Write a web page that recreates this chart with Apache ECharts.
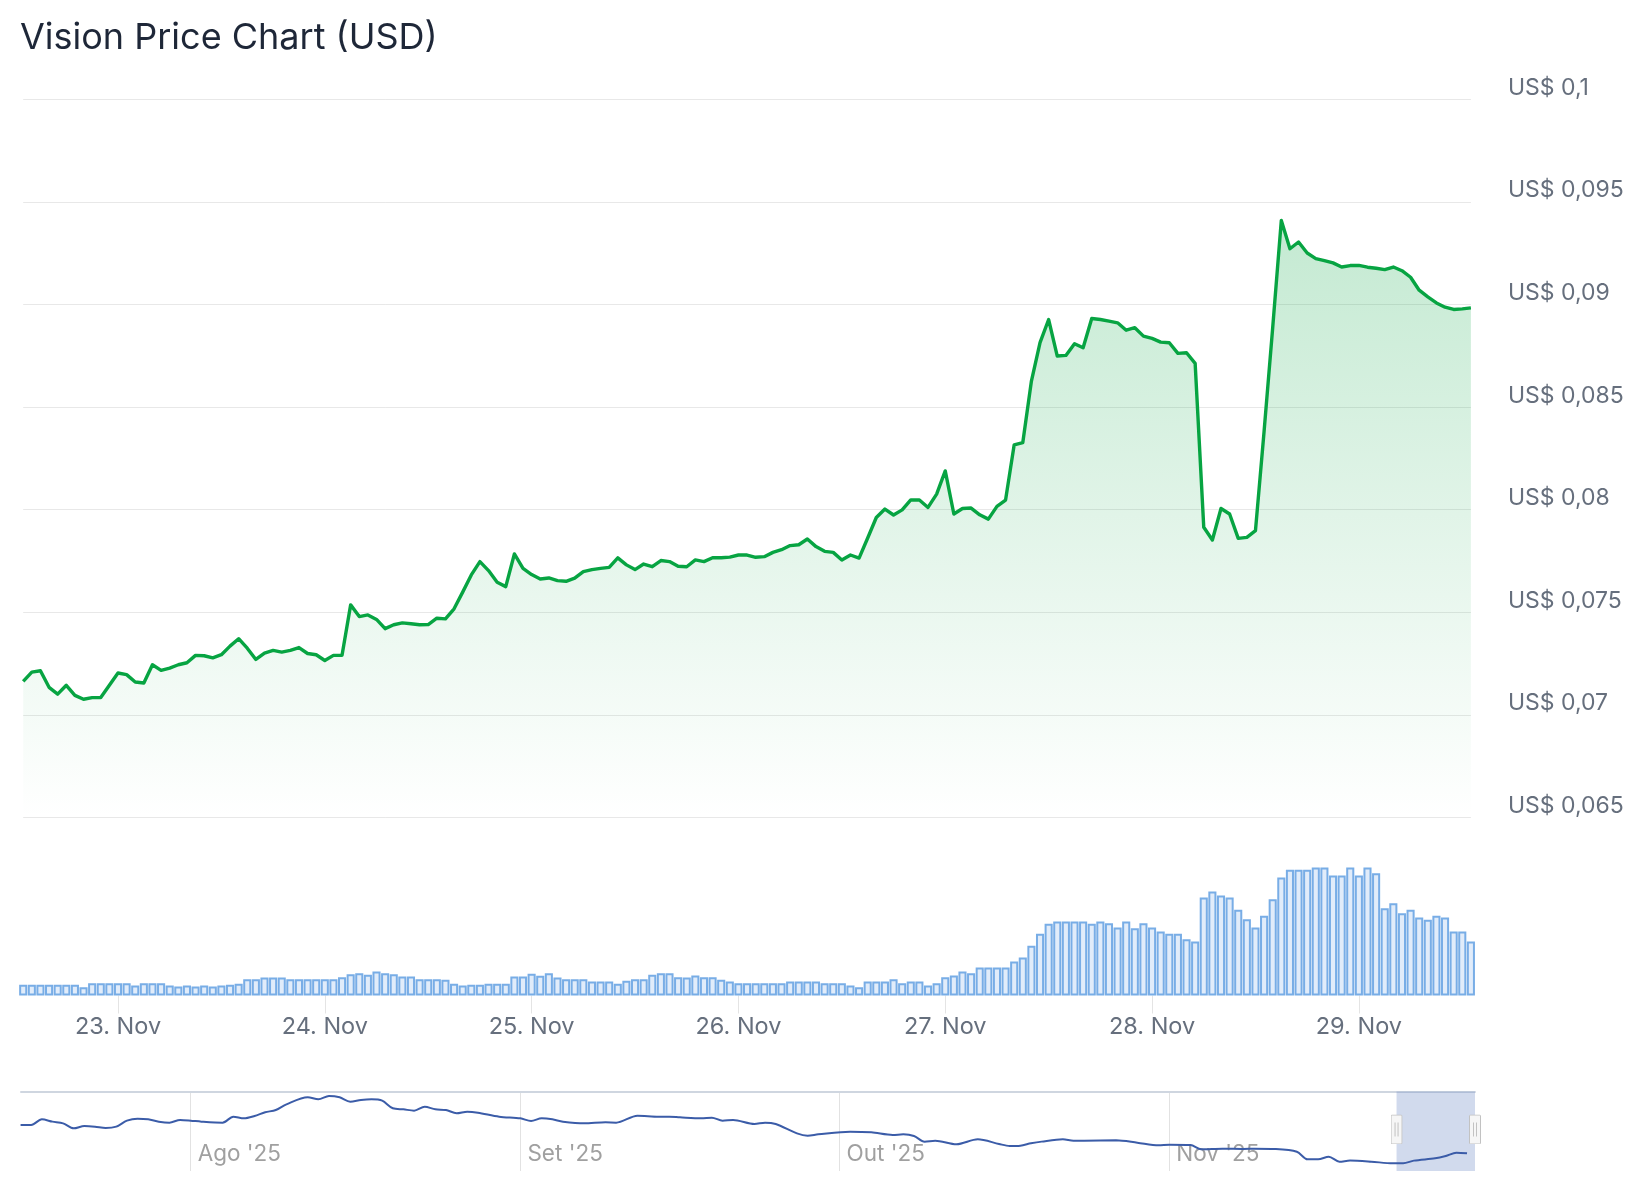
<!DOCTYPE html>
<html><head><meta charset="utf-8">
<script src="https://cdn.jsdelivr.net/npm/echarts@6/dist/echarts.min.js"></script>
<style>html,body{margin:0;padding:0;background:#fff}#chart{width:1644px;height:1200px}</style>
</head><body><div id="chart"></div>
<script>
// ---- data ----
const titleText = 'Vision Price Chart (USD)';
const startUTC = Date.UTC(2025, 10, 22, 13); // first hourly point: 22 Nov 13:00
const monthShort = 'Nov';

const priceValues = [
0.07163,0.07208,0.07215,0.07134,0.07101,0.07144,0.07095,0.07076,0.07084,0.07084,
0.07144,0.07204,0.07196,0.07160,0.07155,0.07244,0.07217,0.07228,0.07244,0.07254,
0.07290,0.07288,0.07278,0.07293,0.07335,0.07371,0.07325,0.07270,0.07301,0.07314,
0.07306,0.07314,0.07328,0.07299,0.07293,0.07265,0.07290,0.07290,0.07536,0.07479,
0.07487,0.07465,0.07420,0.07439,0.07448,0.07444,0.07439,0.07440,0.07471,0.07468,
0.07517,0.07598,0.07682,0.07747,0.07703,0.07646,0.07625,0.07784,0.07714,0.07684,
0.07662,0.07667,0.07654,0.07651,0.07666,0.07698,0.07708,0.07714,0.07719,0.07765,
0.07731,0.07708,0.07735,0.07722,0.07752,0.07747,0.07724,0.07722,0.07755,0.07747,
0.07766,0.07766,0.07769,0.07779,0.07779,0.07768,0.07771,0.07792,0.07805,0.07825,
0.07829,0.07857,0.07820,0.07797,0.07792,0.07755,0.07779,0.07764,0.07862,0.07962,
0.08003,0.07974,0.07999,0.08048,0.08047,0.08011,0.08076,0.08189,0.07979,0.08006,
0.08008,0.07975,0.07954,0.08016,0.08047,0.08316,0.08327,0.08627,0.08814,0.08927,
0.08749,0.08752,0.08809,0.08789,0.08932,0.08927,0.08919,0.08911,0.08875,0.08887,
0.08846,0.08835,0.08817,0.08814,0.08762,0.08765,0.08713,0.07914,0.07852,0.08006,
0.07979,0.07860,0.07865,0.07898,0.08382,0.08887,0.09410,0.09272,0.09305,0.09251,
0.09224,0.09214,0.09203,0.09183,0.09190,0.09191,0.09182,0.09177,0.09170,0.09183,
0.09165,0.09133,0.09070,0.09037,0.09008,0.08987,0.08976,0.08979,0.08984
];

const volumeValues = [
32,32,32,32,32,32,32,25,37,37,
37,37,37,30,37,37,37,30,27,30,
27,30,27,30,32,35,49,49,54,54,
54,49,49,49,49,49,49,55,64,67,
62,72,67,64,57,57,49,49,49,47,
35,30,32,32,35,35,35,57,57,65,
59,67,54,49,49,49,42,42,42,35,
44,49,49,62,67,67,55,54,60,55,
55,47,42,37,37,37,37,37,37,42,
42,42,42,37,37,37,30,25,42,42,
42,49,37,42,42,30,37,55,60,72,
67,84,84,84,84,102,114,149,185,215,
222,222,222,222,215,222,217,204,222,202,
217,204,192,185,185,169,162,294,312,300,
294,257,229,204,239,289,354,377,377,377,
384,384,360,360,384,360,384,367,262,277,
247,257,234,227,239,234,192,192,162
];

const priceTicks = { min: 0.065, max: 0.1, step: 0.005 };

const navDates = [
'2025-07-16','2025-07-17','2025-07-18','2025-07-19','2025-07-20','2025-07-21','2025-07-22','2025-07-23','2025-07-24','2025-07-25',
'2025-07-26','2025-07-27','2025-07-28','2025-07-29','2025-07-30','2025-07-31','2025-08-01','2025-08-02','2025-08-04','2025-08-05',
'2025-08-06','2025-08-07','2025-08-08','2025-08-09','2025-08-10','2025-08-12','2025-08-13','2025-08-14','2025-08-15','2025-08-16',
'2025-08-17','2025-08-18','2025-08-19','2025-08-20','2025-08-21','2025-08-22','2025-08-23','2025-08-24','2025-08-25','2025-08-26',
'2025-08-27','2025-08-28','2025-08-30','2025-09-01','2025-09-02','2025-09-03','2025-09-04','2025-09-05','2025-09-07','2025-09-09',
'2025-09-10','2025-09-12','2025-09-14','2025-09-15','2025-09-16','2025-09-18','2025-09-19','2025-09-20','2025-09-21','2025-09-23',
'2025-09-24','2025-09-25','2025-09-27','2025-09-28','2025-09-29','2025-10-02','2025-10-04','2025-10-06','2025-10-07','2025-10-08',
'2025-10-09','2025-10-10','2025-10-12','2025-10-14','2025-10-16','2025-10-17','2025-10-18','2025-10-19','2025-10-20','2025-10-22',
'2025-10-23','2025-10-24','2025-10-27','2025-10-29','2025-10-31','2025-11-01','2025-11-03','2025-11-04','2025-11-06','2025-11-08',
'2025-11-09','2025-11-11','2025-11-13','2025-11-14','2025-11-15','2025-11-16','2025-11-17','2025-11-18','2025-11-20','2025-11-22',
'2025-11-23','2025-11-24','2025-11-26','2025-11-27','2025-11-28','2025-11-29'
];
const navValues = [
0.1414,0.1414,0.1517,0.1475,0.1444,0.1353,0.1396,0.1384,0.1359,0.1384,
0.1493,0.1529,0.1517,0.1475,0.1457,0.1505,0.1493,0.1475,0.1457,0.1566,
0.1535,0.1578,0.1645,0.1687,0.1790,0.1918,0.1881,0.1942,0.1918,0.1839,
0.1869,0.1881,0.1857,0.1718,0.1699,0.1675,0.1748,0.1699,0.1687,0.1627,
0.1657,0.1639,0.1566,0.1535,0.1487,0.1535,0.1517,0.1475,0.1444,0.1463,
0.1457,0.1584,0.1566,0.1566,0.1554,0.1535,0.1548,0.1493,0.1505,0.1432,
0.1457,0.1432,0.1262,0.1220,0.1244,0.1293,0.1280,0.1232,0.1244,0.1214,
0.1111,0.1129,0.1062,0.1153,0.1068,0.1032,0.1038,0.1080,0.1111,0.1153,
0.1129,0.1129,0.1135,0.1092,0.1044,0.1056,0.1050,0.0971,0.0983,0.0977,
0.0983,0.0977,0.0928,0.0789,0.0789,0.0837,0.0746,0.0765,0.0746,0.0716,
0.0716,0.0765,0.0807,0.0850,0.0910,0.0898
];
const navRange = ['2025-07-16T01:00:00Z', '2025-11-29T18:00:00Z'];
const navYRange = [0.0576, 0.2024];
const monthTicks = ['2025-08-01T00:00:00Z','2025-09-01T00:00:00Z','2025-10-01T00:00:00Z','2025-11-01T00:00:00Z'];
const monthLabels = ["Ago '25", "Set '25", "Out '25", "Nov '25"];
const selRange = ['2025-11-22T09:00:00Z', '2025-11-29T18:00:00Z'];
const handleLevel = 0.1332;

// ---- derived ----
const pad = n => String(n).padStart(2, '0');
const categories = priceValues.map((_, i) => {
  const d = new Date(startUTC + i * 3600000);
  return `${d.getUTCFullYear()}-${pad(d.getUTCMonth()+1)}-${pad(d.getUTCDate())} ${pad(d.getUTCHours())}:00`;
});
const isMidnight = idx => !!categories[idx] && categories[idx].endsWith(' 00:00');
const toTs = s => new Date(s).getTime();
const monthTickTs = monthTicks.map(toTs);

const FONT = 'Inter, "Noto Sans", sans-serif';
const handleSvg = "<svg xmlns='http://www.w3.org/2000/svg' width='12' height='30'><rect x='0.5' y='0.5' width='11' height='29' rx='1' fill='#f6f6f6' stroke='#c2c2c2'/><line x1='4.5' y1='8' x2='4.5' y2='22' stroke='#c2c2c2'/><line x1='7.5' y1='8' x2='7.5' y2='22' stroke='#c2c2c2'/></svg>";
const handleSymbol = 'image://data:image/svg+xml;utf8,' + encodeURIComponent(handleSvg);

const chart = echarts.init(document.getElementById('chart'), null, { renderer: 'canvas' });
chart.setOption({
  animation: false,
  backgroundColor: '#ffffff',
  textStyle: { fontFamily: FONT },
  title: {
    text: titleText, left: 20, top: 20, padding: 0,
    textStyle: { fontFamily: FONT, fontSize: 36, fontWeight: 400, color: '#1e2738' }
  },
  grid: [
    { left: 23.2, top: 99.4, width: 1447.7, height: 718 },
    { left: 18.9, top: 835.5, width: 1456.3, height: 160 },
    { left: 21, top: 1091.5, width: 1454, height: 79.5 }
  ],
  xAxis: [
    { type: 'category', gridIndex: 0, data: categories, boundaryGap: false, show: false },
    { type: 'category', gridIndex: 1, data: categories, boundaryGap: true,
      axisLine: { show: false },
      axisTick: { show: true, alignWithLabel: true, length: 18, interval: (i) => isMidnight(i), lineStyle: { color: '#e4e4e4', width: 1 } },
      axisLabel: { interval: (i) => isMidnight(i), margin: 19, fontSize: 23.5, color: '#666f7d', fontFamily: FONT,
        formatter: v => `${parseInt(v.slice(8, 10), 10)}. ${monthShort}` },
      splitLine: { show: false } },
    { type: 'value', gridIndex: 2, min: toTs(navRange[0]), max: toTs(navRange[1]), position: 'bottom',
      axisLine: { show: false },
      axisTick: { show: false, customValues: monthTickTs },
      splitLine: { show: true, lineStyle: { color: '#e2e2e2', width: 1 } },
      axisLabel: { show: true, customValues: monthTickTs, inside: true, margin: 16.6, verticalAlign: 'middle',
        align: 'left', padding: [0, 0, 0, 7], fontSize: 22.5, color: '#a0a0a0', fontFamily: FONT,
        formatter: v => { const k = monthTickTs.indexOf(v); return k >= 0 ? monthLabels[k] : ''; } } },
    { type: 'value', gridIndex: 2, min: toTs(navRange[0]), max: toTs(navRange[1]), position: 'top',
      axisLine: { show: true, lineStyle: { color: '#cfd6e0', width: 2 } },
      axisTick: { show: false }, axisLabel: { show: false }, splitLine: { show: false } }
  ],
  yAxis: [
    { type: 'value', gridIndex: 0, position: 'right', min: priceTicks.min, max: priceTicks.max, interval: priceTicks.step,
      axisLine: { show: false }, axisTick: { show: false },
      splitLine: { show: true, lineStyle: { color: '#e8e8e8', width: 1 } },
      axisLabel: { margin: 37, align: 'left', verticalAlign: 'bottom', fontSize: 23, color: '#666f7d', fontFamily: FONT,
        formatter: v => 'US$ ' + String(+v.toFixed(3)).replace('.', ',') } },
    { type: 'value', gridIndex: 1, min: 0, max: 480, show: false },
    { type: 'value', gridIndex: 2, min: navYRange[0], max: navYRange[1], show: false }
  ],
  series: [
    { name: 'Price', type: 'line', xAxisIndex: 0, yAxisIndex: 0, data: priceValues,
      showSymbol: false, symbol: 'none',
      lineStyle: { color: '#07a442', width: 3.4, join: 'round' },
      areaStyle: { origin: 'start', color: { type: 'linear', x: 0, y: 0, x2: 0, y2: 1,
        colorStops: [{ offset: 0, color: 'rgba(20,170,75,0.36)' }, { offset: 1, color: 'rgba(20,170,75,0.0)' }] } },
      z: 3 },
    { name: 'Volume', type: 'bar', xAxisIndex: 1, yAxisIndex: 1, data: volumeValues,
      barCategoryGap: '6%',
      itemStyle: { color: '#e1ecfa', borderColor: '#78ade6', borderWidth: 2 } },
    { name: 'Navigator', type: 'line', xAxisIndex: 2, yAxisIndex: 2,
      data: navDates.map((d, i) => [toTs(d + 'T00:00:00Z'), navValues[i]]),
      showSymbol: false, symbol: 'none', smooth: 0.3,
      lineStyle: { color: '#3b5ca8', width: 2 },
      markArea: { silent: true, itemStyle: { color: 'rgba(102,133,194,0.3)' },
        data: [[{ xAxis: toTs(selRange[0]) }, { xAxis: toTs(selRange[1]) }]] },
      markPoint: { silent: true, symbol: handleSymbol, symbolSize: [12, 30], label: { show: false },
        data: [{ coord: [toTs(selRange[0]), handleLevel] }, { coord: [toTs(selRange[1]), handleLevel] }] },
      z: 3 }
  ]
});
</script></body></html>
